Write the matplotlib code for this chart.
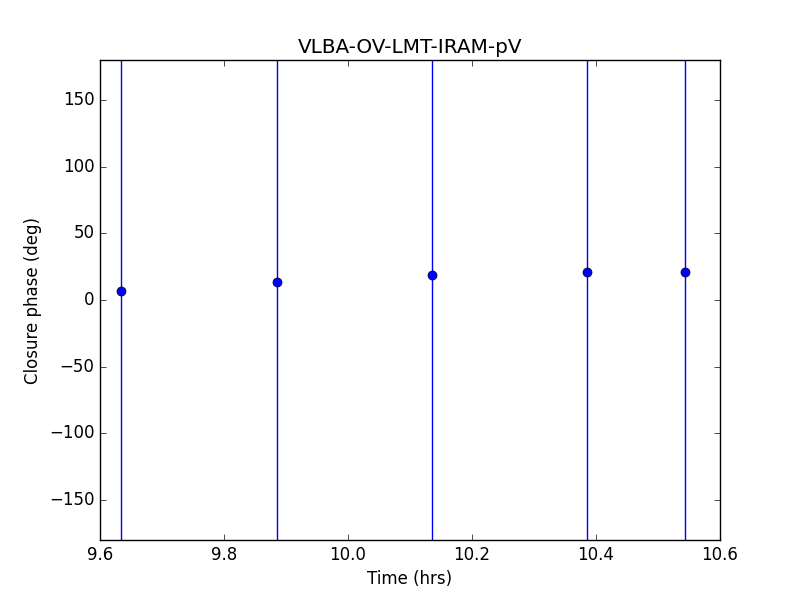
import matplotlib
matplotlib.use("Agg")
import matplotlib.pyplot as plt

plt.style.use("classic")
plt.rcParams['axes.formatter.useoffset'] = False

time_hrs = [9.634, 9.885, 10.135, 10.386, 10.544]
closure_phase = [6.6, 13.3, 18.6, 21.0, 21.0]
phase_err = [500, 500, 500, 500, 500]

fig = plt.figure(figsize=(8, 6), dpi=100)
ax = fig.add_subplot(111)
ax.errorbar(time_hrs, closure_phase, yerr=phase_err, fmt='o', color='b',
            ecolor='b', capsize=0, markersize=6.5)
ax.set_xlim(9.6, 10.6)
ax.set_ylim(-180, 180)
ax.set_xlabel("Time (hrs)")
ax.set_ylabel("Closure phase (deg)")
ax.set_title("VLBA-OV-LMT-IRAM-pV")
fig.savefig("out.png", dpi=100)
